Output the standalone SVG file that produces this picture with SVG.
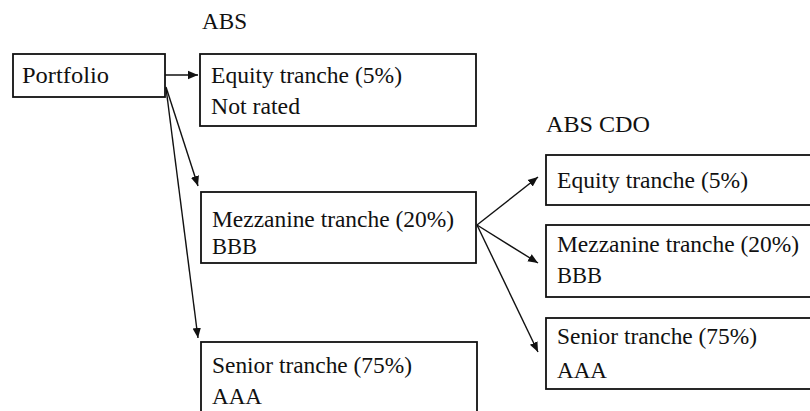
<svg xmlns="http://www.w3.org/2000/svg" width="810" height="411" viewBox="0 0 810 411">
<defs>
<style>
.box{fill:#fff;stroke:#111;stroke-width:1.8}
.t{font-family:"Liberation Serif","Times New Roman",serif;font-size:24px;fill:#111}
.c{stroke:#111;stroke-width:1.4;fill:none;marker-end:url(#ah)}
</style>
<marker id="ah" viewBox="0 0 10 10" refX="10" refY="5" markerWidth="10" markerHeight="10" markerUnits="userSpaceOnUse" orient="auto">
<path d="M0,0.8 L10,5 L0,9.2 Z" fill="#111"/>
</marker>
</defs>
<rect width="810" height="411" fill="#fff"/>
<text class="t" x="202" y="29" textLength="45" lengthAdjust="spacingAndGlyphs">ABS</text>
<text class="t" x="546" y="132" textLength="104" lengthAdjust="spacingAndGlyphs">ABS CDO</text>
<g id="portfolio">
<rect class="box" x="13" y="54" width="152" height="43"/>
<text class="t" x="22" y="83" textLength="87" lengthAdjust="spacingAndGlyphs">Portfolio</text>
</g>
<g id="abs-equity">
<rect class="box" x="200" y="54" width="276" height="72"/>
<text class="t" x="211" y="83" textLength="191" lengthAdjust="spacingAndGlyphs">Equity tranche (5%)</text>
<text class="t" x="211" y="114" textLength="89" lengthAdjust="spacingAndGlyphs">Not rated</text>
</g>
<g id="abs-mezz">
<rect class="box" x="201" y="192" width="275" height="71"/>
<text class="t" x="212" y="227" textLength="242" lengthAdjust="spacingAndGlyphs">Mezzanine tranche (20%)</text>
<text class="t" x="212" y="254" textLength="45" lengthAdjust="spacingAndGlyphs">BBB</text>
</g>
<g id="abs-senior">
<rect class="box" x="201" y="342" width="276" height="80"/>
<text class="t" x="212" y="373" textLength="200" lengthAdjust="spacingAndGlyphs">Senior tranche (75%)</text>
<text class="t" x="212" y="404" textLength="50" lengthAdjust="spacingAndGlyphs">AAA</text>
</g>
<g id="cdo-equity">
<rect class="box" x="546" y="155" width="280" height="50"/>
<text class="t" x="557" y="188" textLength="191" lengthAdjust="spacingAndGlyphs">Equity tranche (5%)</text>
</g>
<g id="cdo-mezz">
<rect class="box" x="546" y="225" width="280" height="72"/>
<text class="t" x="557" y="252" textLength="242" lengthAdjust="spacingAndGlyphs">Mezzanine tranche (20%)</text>
<text class="t" x="557" y="283" textLength="45" lengthAdjust="spacingAndGlyphs">BBB</text>
</g>
<g id="cdo-senior">
<rect class="box" x="546" y="318" width="280" height="71"/>
<text class="t" x="557" y="344" textLength="200" lengthAdjust="spacingAndGlyphs">Senior tranche (75%)</text>
<text class="t" x="557" y="378" textLength="50" lengthAdjust="spacingAndGlyphs">AAA</text>
</g>
<g id="connectors">
<line class="c" x1="165" y1="75" x2="198" y2="75"/>
<line class="c" x1="166" y1="87" x2="198" y2="186"/>
<line class="c" x1="166" y1="88" x2="198" y2="338"/>
<line class="c" x1="477" y1="225" x2="538" y2="177"/>
<line class="c" x1="477" y1="225" x2="538" y2="263"/>
<line class="c" x1="477" y1="225" x2="538" y2="352"/>
</g>
</svg>
